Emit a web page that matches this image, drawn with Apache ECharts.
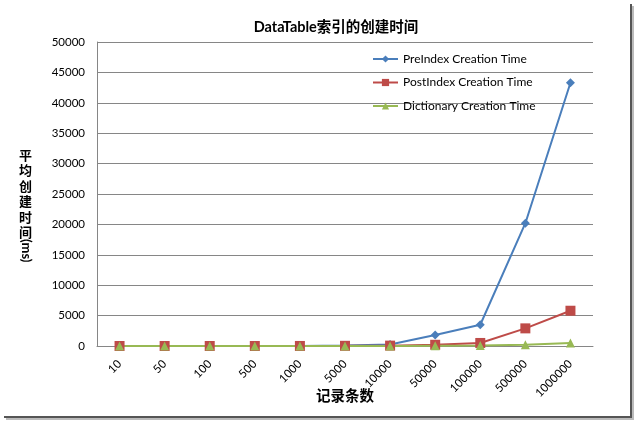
<!DOCTYPE html>
<html><head><meta charset="utf-8">
<script src="https://cdn.jsdelivr.net/npm/echarts@6/dist/echarts.min.js"></script>
<style>html,body{margin:0;padding:0;background:#fff}#c{width:636px;height:421px}</style>
</head><body><div id="c"></div>
<script>
const categories = ['10','50','100','500','1000','5000','10000','50000','100000','500000','1000000'];
const preIndex = [1,2,3,10,20,100,250,1800,3500,20200,43300];
const postIndex = [0,1,1,3,6,30,60,200,500,2900,5800];
const dictionary = [0,0,0,1,2,10,20,60,100,200,500];
const yTicks = [0,5000,10000,15000,20000,25000,30000,35000,40000,45000,50000];
const FONT = "Lato, 'Noto Sans CJK SC', sans-serif";
const chart = echarts.init(document.getElementById('c'));
function ser(name, data, color, symbol, size){
  return {name, type:'line', data, symbol, symbolSize:size, showAllSymbol:true,
    lineStyle:{color, width:2}, itemStyle:{color}, emphasis:{disabled:true}};
}
chart.setOption({
  animation:false,
  textStyle:{fontFamily:FONT},
  title:{text:'DataTable索引的创建时间', left:331, top:15, textAlign:'center',
    textStyle:{fontFamily:FONT, fontSize:14.5, fontWeight:'bold', color:'#000'}},
  legend:{orient:'vertical', left:367, top:48, itemGap:11.5, itemWidth:25, itemHeight:9,
    textStyle:{fontFamily:FONT, fontSize:12, color:'#000'},
    data:['PreIndex Creation Time','PostIndex Creation Time','Dictionary Creation Time']},
  grid:{left:97, right:43, top:42, bottom:75, outerBoundsMode:'none', containLabel:false},
  xAxis:{type:'category', data:categories, boundaryGap:true,
    axisLine:{lineStyle:{color:'#868686'}},
    axisTick:{inside:true, length:3, lineStyle:{color:'#868686'}},
    axisLabel:{rotate:45, fontSize:11.5, color:'#000', fontFamily:FONT, margin:16, interval:0},
    name:'记录条数', nameLocation:'middle', nameGap:43, nameMoveOverlap:false,
    nameTextStyle:{fontSize:14.5, fontWeight:'bold', color:'#000', fontFamily:FONT}},
  yAxis:{type:'value', min:yTicks[0], max:yTicks[yTicks.length-1], interval:yTicks[1]-yTicks[0],
    axisLine:{show:true, lineStyle:{color:'#868686'}},
    axisTick:{show:false},
    splitLine:{lineStyle:{color:'#868686', width:1}},
    axisLabel:{fontSize:11.5, color:'#000', fontFamily:FONT, margin:12, formatter:v=>String(v)}},
  graphic:[
    {type:'text', left:19, top:147, style:{text:'平\n均\n创\n建\n时\n间', font:"bold 13px 'Noto Sans CJK SC'", lineHeight:15.5, fill:'#000'}},
    {type:'text', x:33, y:239, rotation:-Math.PI/2, style:{text:'(ms)', font:"bold 13px Lato, 'Noto Sans CJK SC'", fill:'#000'}},
    {type:'rect', shape:{x:630, y:4, width:2, height:415}, style:{fill:'#555'}},
    {type:'rect', shape:{x:4, y:416, width:628, height:2}, style:{fill:'#555'}},
    {type:'rect', shape:{x:632, y:6, width:2, height:414}, style:{fill:'#bbb'}},
    {type:'rect', shape:{x:6, y:418, width:628, height:2}, style:{fill:'#bbb'}}
  ],
  series:[
    ser('PreIndex Creation Time', preIndex, '#4A7EBB', 'diamond', 9),
    ser('PostIndex Creation Time', postIndex, '#BE4B48', 'rect', 10),
    ser('Dictionary Creation Time', dictionary, '#98B954', 'triangle', 9)
  ]
});
</script></body></html>
